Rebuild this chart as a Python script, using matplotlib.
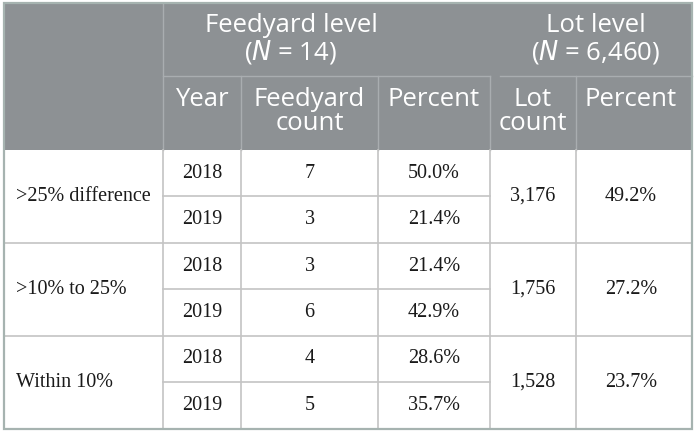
import matplotlib
matplotlib.use("Agg")
import matplotlib.pyplot as plt
from matplotlib.patches import Rectangle

# ---- table data ----
categories = [">25% difference", ">10% to 25%", "Within 10%"]
years = ["2018", "2019"]
feedyard_counts = [[7, 3], [3, 6], [4, 5]]
feedyard_pct = [[50.0, 21.4], [21.4, 42.9], [28.6, 35.7]]
lot_counts = [3176, 1756, 1528]
lot_pct = [49.2, 27.2, 23.7]
feedyard_n = 14
lot_n = 6460

# ---- layout (pixels) ----
W, H = 696, 432
LEFT, RIGHT, TOP, BOTTOM = 4, 692, 3, 428.5
COLS = [LEFT, 163, 241, 378, 490, 576, RIGHT]
HEAD_MID = 75.5
HEAD_BOT = 150
ROW_H = (BOTTOM - HEAD_BOT) / 6

HEAD_BG = "#8d9194"
HEAD_LINE = "#a9adb0"
BODY_LINE = "#c4c4c4"
BORDER = "#a6b3b0"
SANS = ["Open Sans", "DejaVu Sans"]
SERIF = ["Liberation Serif", "DejaVu Serif"]

fig = plt.figure(figsize=(W / 100, H / 100), dpi=100)
ax = fig.add_axes([0, 0, 1, 1])
ax.set_xlim(0, W)
ax.set_ylim(H, 0)
ax.axis("off")

# header background
ax.add_patch(Rectangle((LEFT, TOP), RIGHT - LEFT, HEAD_BOT - TOP,
                       facecolor=HEAD_BG, edgecolor="none", zorder=1))

# header lines
ax.plot([COLS[1], COLS[1]], [TOP, HEAD_BOT], color=HEAD_LINE, lw=1.0, zorder=2)
ax.plot([COLS[1], COLS[4]], [HEAD_MID, HEAD_MID], color=HEAD_LINE, lw=1.0, zorder=2)
ax.plot([COLS[4] + 10, RIGHT], [HEAD_MID, HEAD_MID], color=HEAD_LINE, lw=1.0, zorder=2)
for x in COLS[2:6]:
    ax.plot([x, x], [HEAD_MID, HEAD_BOT], color=HEAD_LINE, lw=1.0, zorder=2)

# body lines
for x in COLS[1:6]:
    ax.plot([x, x], [HEAD_BOT, BOTTOM], color=BODY_LINE, lw=1.2, zorder=2)
for g in range(3):
    y_top = HEAD_BOT + g * 2 * ROW_H
    if g > 0:
        ax.plot([LEFT, RIGHT], [y_top, y_top], color=BODY_LINE, lw=1.2, zorder=2)
    y_mid = y_top + ROW_H
    ax.plot([COLS[1], COLS[4]], [y_mid, y_mid], color=BODY_LINE, lw=1.2, zorder=2)

# outer border
ax.add_patch(Rectangle((LEFT, TOP), RIGHT - LEFT, BOTTOM - TOP,
                       facecolor="none", edgecolor=BORDER, lw=1.6, zorder=3))

# header text
hkw = dict(color="white", family=SANS, fontsize=18.5, ha="center", va="center", zorder=4)
ax.text(291, 26, "Feedyard level", **hkw)
ax.text(291, 52, f"($\\mathit{{N}}$ = {feedyard_n})", **hkw)
ax.text(596, 26, "Lot level", **hkw)
ax.text(596, 52, f"($\\mathit{{N}}$ = {lot_n:,})", **hkw)

ax.text((COLS[1] + COLS[2]) / 2, 99, "Year", **hkw)
ax.text((COLS[2] + COLS[3]) / 2, 99, "Feedyard", **hkw)
ax.text((COLS[2] + COLS[3]) / 2, 123, "count", **hkw)
ax.text((COLS[3] + COLS[4]) / 2, 99, "Percent", **hkw)
ax.text((COLS[4] + COLS[5]) / 2, 99, "Lot", **hkw)
ax.text((COLS[4] + COLS[5]) / 2, 123, "count", **hkw)
ax.text((COLS[5] + COLS[6]) / 2 - 3, 99, "Percent", **hkw)

# body text
bkw = dict(color="#1a1a1a", family=SERIF, fontsize=14.5, va="center", zorder=4)
for g, cat in enumerate(categories):
    y_top = HEAD_BOT + g * 2 * ROW_H
    ax.text(16, y_top + ROW_H, cat, ha="left", **bkw)
    for r, yr in enumerate(years):
        yc = y_top + (r + 0.5) * ROW_H
        ax.text((COLS[1] + COLS[2]) / 2, yc, yr, ha="center", **bkw)
        ax.text((COLS[2] + COLS[3]) / 2, yc, str(feedyard_counts[g][r]), ha="center", **bkw)
        ax.text((COLS[3] + COLS[4]) / 2, yc, f"{feedyard_pct[g][r]:.1f}%", ha="center", **bkw)
    ax.text((COLS[4] + COLS[5]) / 2, y_top + ROW_H, f"{lot_counts[g]:,}", ha="center", **bkw)
    ax.text((COLS[5] + COLS[6]) / 2 - 3, y_top + ROW_H, f"{lot_pct[g]:.1f}%", ha="center", **bkw)

fig.savefig("out.png", dpi=100)
